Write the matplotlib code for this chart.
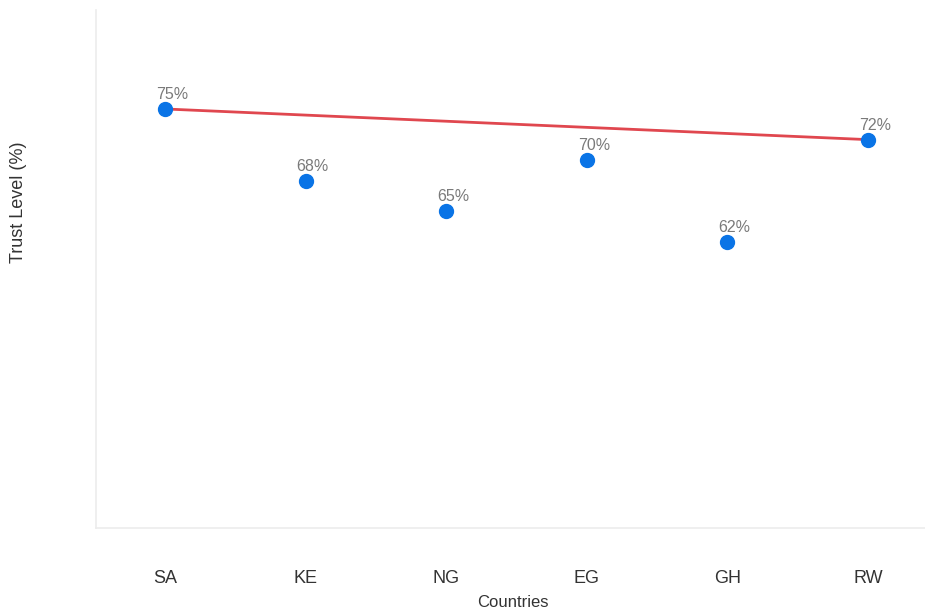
import matplotlib
matplotlib.use("Agg")
import matplotlib.pyplot as plt
from matplotlib import font_manager

countries = ["SA", "KE", "NG", "EG", "GH", "RW"]
trust = [75, 68, 65, 70, 62, 72]

names = {f.name for f in font_manager.fontManager.ttflist}
narrow = "Liberation Sans Narrow" if "Liberation Sans Narrow" in names else "Liberation Sans"

fig = plt.figure(figsize=(9.25, 6.12), dpi=100)
ax = fig.add_axes([0.104, 0.137, 0.896, 0.847])

x = list(range(len(countries)))

# trend segment from first to last country
ax.plot([x[0], x[-1]], [trust[0], trust[-1]], color="#e0474f", linewidth=2.0, zorder=2)
ax.plot(x, trust, linestyle="none", marker="o", markersize=10,
        color="#0a74e6", zorder=3)

for xi, v in zip(x, trust):
    ax.annotate(f"{v}%", (xi, v), xytext=(5, 5), textcoords="offset points",
                ha="center", va="bottom", fontsize=11.5, color="#7a7a7a",
                family="Liberation Sans")

ax.set_xlim(-0.49, 5.405)
ax.set_ylim(34, 84.7)
ax.set_xticks(x)
ax.set_xticklabels(countries, family=narrow, fontsize=13, color="#333333")
ax.tick_params(axis="x", length=0, pad=30)
ax.set_yticks([])

for side in ["top", "right"]:
    ax.spines[side].set_visible(False)
for side in ["left", "bottom"]:
    ax.spines[side].set_color("#ececec")
    ax.spines[side].set_linewidth(1.2)

fig.text(0.555, 0.004, "Countries", family=narrow, fontsize=12,
         color="#333333", ha="center", va="bottom")
fig.text(0.02, 0.67, "Trust Level (%)", rotation=90, family="Liberation Sans",
         fontsize=13, color="#333333", ha="center", va="center")

fig.savefig("out.png", dpi=100)
